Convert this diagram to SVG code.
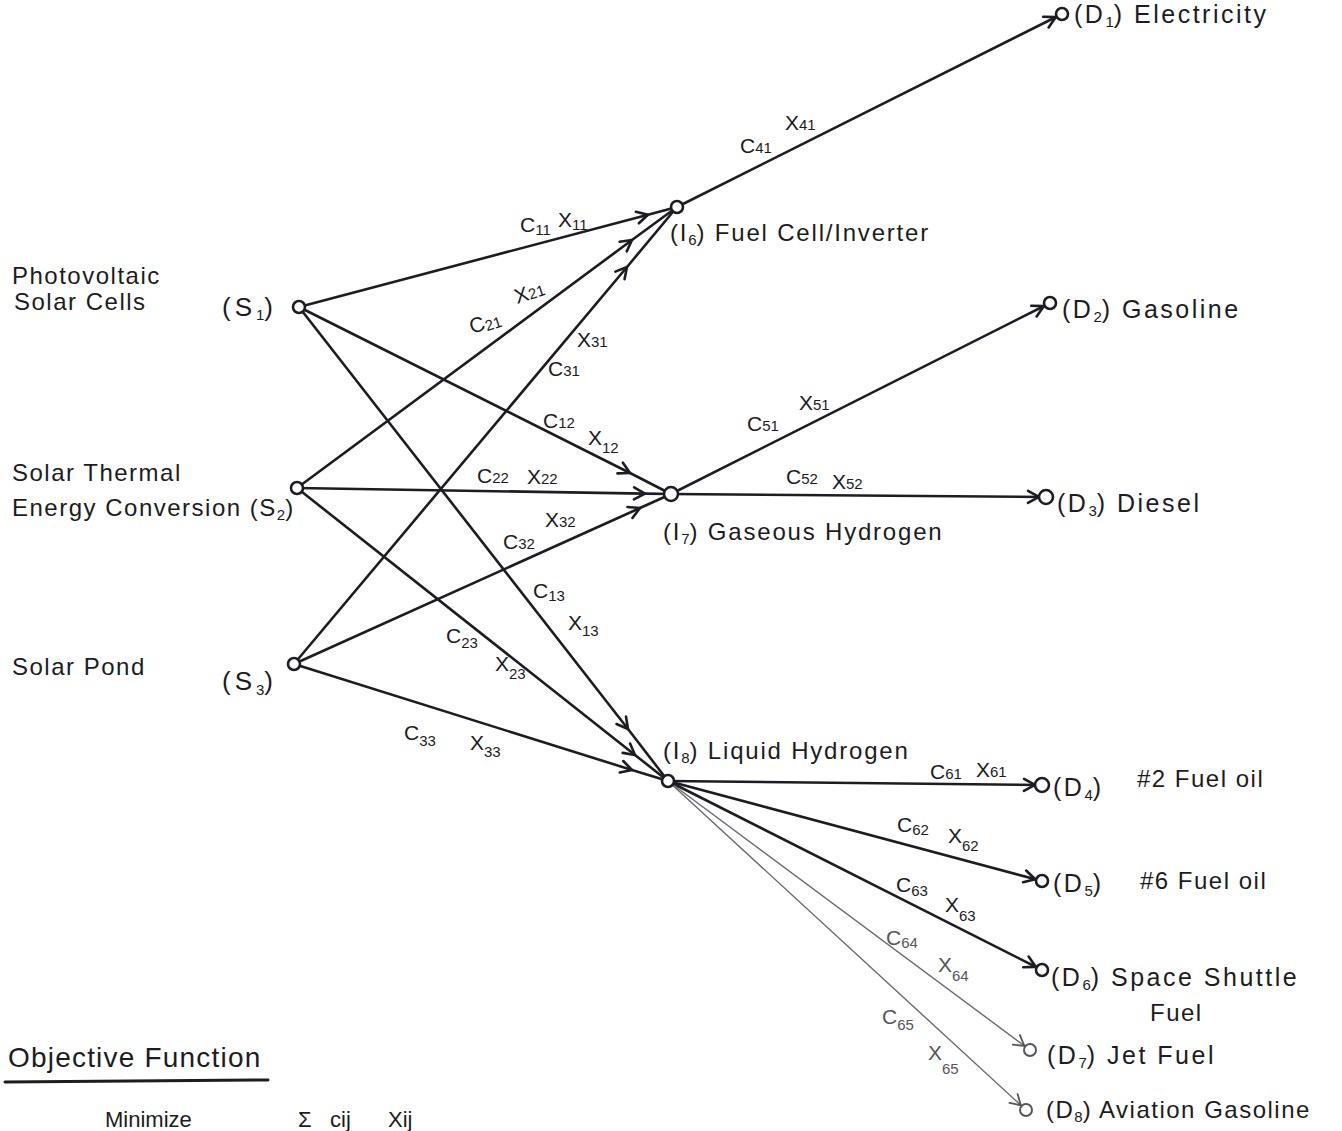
<svg xmlns="http://www.w3.org/2000/svg" width="1342" height="1131" viewBox="0 0 1342 1131">
<style>
text{font-family:"Liberation Sans","DejaVu Sans",sans-serif;fill:#1c1c22}
.lbl{font-size:24px;letter-spacing:1.5px}
.il{font-size:24px;letter-spacing:1.8px}
.sl{font-size:26px;letter-spacing:4px}
.dl{font-size:25px;letter-spacing:2.5px}
.el{font-size:21px}
.sub{font-size:15px;letter-spacing:0}
.gl{fill:#55555c}
.e{fill:none;stroke:#1c1c22;stroke-width:2.6;stroke-linecap:round}
.thin{fill:none;stroke:#6a6a70;stroke-width:1.4;stroke-linecap:round}
.n{fill:#fff;stroke:#1c1c22;stroke-width:2.6}
.ng{fill:#fff;stroke:#55555c;stroke-width:2}
</style>
<defs>
<marker id="mid" markerUnits="userSpaceOnUse" markerWidth="30" markerHeight="30" viewBox="-15 -15 30 30" refX="0" refY="0" orient="auto">
<path d="M -11 -6 L 0 0 L -11 6" fill="none" stroke="#1c1c22" stroke-width="2.6" stroke-linecap="round" stroke-linejoin="round"/>
</marker>
<marker id="end" markerUnits="userSpaceOnUse" markerWidth="40" markerHeight="30" viewBox="-25 -15 40 30" refX="0" refY="0" orient="auto">
<path d="M -18 -6 L -7 0 L -18 6" fill="none" stroke="#1c1c22" stroke-width="2.6" stroke-linecap="round" stroke-linejoin="round"/>
</marker>
<marker id="endg" markerUnits="userSpaceOnUse" markerWidth="40" markerHeight="30" viewBox="-25 -15 40 30" refX="0" refY="0" orient="auto">
<path d="M -17 -6 L -7 0 L -17 6" fill="none" stroke="#55555c" stroke-width="1.8" stroke-linecap="round" stroke-linejoin="round"/>
</marker>
</defs>
<rect width="1342" height="1131" fill="#fff"/>

<g id="connectors">
<path class="e" marker-mid="url(#mid)" d="M 299 307 L 648 214.7 L 677 207"/>
<path class="e" marker-mid="url(#mid)" d="M 299 307 L 630 473 L 671 494"/>
<path class="e" marker-mid="url(#mid)" d="M 299 307 L 628 729 L 668 781"/>
<path class="e" marker-mid="url(#mid)" d="M 297 488 L 632 240 L 677 207"/>
<path class="e" marker-mid="url(#mid)" d="M 297 488 L 645 493.6 L 671 494"/>
<path class="e" marker-mid="url(#mid)" d="M 297 488 L 635 755 L 668 781"/>
<path class="e" marker-mid="url(#mid)" d="M 294 664 L 627 267 L 677 207"/>
<path class="e" marker-mid="url(#mid)" d="M 294 664 L 640 508 L 671 494"/>
<path class="e" marker-mid="url(#mid)" d="M 294 664 L 632 770 L 668 781"/>
<path class="e" marker-end="url(#end)" d="M 677 207 L 1062 14"/>
<path class="e" marker-end="url(#end)" d="M 671 494 L 1050 303"/>
<path class="e" marker-end="url(#end)" d="M 671 494 L 1046 497"/>
<path class="e" marker-end="url(#end)" d="M 668 781 L 1042 785"/>
<path class="e" marker-end="url(#end)" d="M 668 781 L 1042 881"/>
<path class="e" marker-end="url(#end)" d="M 668 781 L 1042 970"/>
<path class="thin" marker-end="url(#endg)" d="M 668 781 L 1030 1050"/>
<path class="thin" marker-end="url(#endg)" d="M 668 781 L 1026 1110"/>

<g id="edge-labels">
<text class="el" x="520" y="232">C<tspan class="sub" dy="3">11</tspan></text>
<text class="el" x="558" y="227">X<tspan class="sub" dy="3">11</tspan></text>
<text class="el" x="472" y="334" transform="rotate(-18 472 334)">C<tspan class="sub" dy="2">21</tspan></text>
<text class="el" x="517" y="304" transform="rotate(-18 517 304)">X<tspan class="sub">21</tspan></text>
<text class="el" x="577" y="347">X<tspan class="sub">31</tspan></text>
<text class="el" x="548" y="376">C<tspan class="sub">31</tspan></text>
<text class="el" x="740" y="153">C<tspan class="sub">41</tspan></text>
<text class="el" x="785" y="130">X<tspan class="sub">41</tspan></text>
<text class="el" x="543" y="428">C<tspan class="sub">12</tspan></text>
<text class="el" x="588" y="445">X<tspan class="sub" dy="8">12</tspan></text>
<text class="el" x="477" y="483">C<tspan class="sub">22</tspan></text>
<text class="el" x="527" y="484">X<tspan class="sub">22</tspan></text>
<text class="el" x="503" y="549">C<tspan class="sub">32</tspan></text>
<text class="el" x="545" y="527">X<tspan class="sub">32</tspan></text>
<text class="el" x="747" y="431">C<tspan class="sub">51</tspan></text>
<text class="el" x="799" y="410">X<tspan class="sub">51</tspan></text>
<text class="el" x="786" y="484">C<tspan class="sub">52</tspan></text>
<text class="el" x="832" y="489">X<tspan class="sub">52</tspan></text>
<text class="el" x="533" y="598">C<tspan class="sub" dy="3">13</tspan></text>
<text class="el" x="568" y="630">X<tspan class="sub" dy="6">13</tspan></text>
<text class="el" x="446" y="643">C<tspan class="sub" dy="5">23</tspan></text>
<text class="el" x="495" y="671">X<tspan class="sub" dy="8">23</tspan></text>
<text class="el" x="404" y="740">C<tspan class="sub" dy="6">33</tspan></text>
<text class="el" x="470" y="750">X<tspan class="sub" dy="7">33</tspan></text>
<text class="el" x="930" y="779">C<tspan class="sub">61</tspan></text>
<text class="el" x="976" y="777">X<tspan class="sub">61</tspan></text>
<text class="el" x="897" y="832">C<tspan class="sub" dy="3">62</tspan></text>
<text class="el" x="948" y="843">X<tspan class="sub" dy="8">62</tspan></text>
<text class="el" x="896" y="892">C<tspan class="sub" dy="4">63</tspan></text>
<text class="el" x="945" y="912">X<tspan class="sub" dy="9">63</tspan></text>
<text class="el gl" x="886" y="945">C<tspan class="sub gl" dy="3">64</tspan></text>
<text class="el gl" x="938" y="972">X<tspan class="sub gl" dy="9">64</tspan></text>
<text class="el gl" x="882" y="1024">C<tspan class="sub gl" dy="6">65</tspan></text>
<text class="el gl" x="928" y="1060">X<tspan class="sub gl" dy="14">65</tspan></text>
</g>
</g>

<g id="S1"><circle class="n" cx="299" cy="307" r="6"/>
<text class="lbl" x="12" y="284">Photovoltaic</text>
<text class="lbl" x="14" y="310">Solar Cells</text>
<text class="sl" x="222" y="316">(S<tspan class="sub" dy="4">1</tspan><tspan dy="-4">)</tspan></text></g>
<g id="S2"><circle class="n" cx="297" cy="488" r="6"/>
<text class="lbl" x="12" y="481">Solar Thermal</text>
<text class="lbl" x="12" y="516">Energy Conversion (S<tspan class="sub" dy="4">2</tspan><tspan dy="-4">)</tspan></text></g>
<g id="S3"><circle class="n" cx="294" cy="664" r="6"/>
<text class="lbl" x="12" y="675">Solar Pond</text>
<text class="sl" x="222" y="690">(S<tspan class="sub" dy="5">3</tspan><tspan dy="-5">)</tspan></text></g>

<g id="I6"><circle class="n" cx="677" cy="207" r="6"/>
<text class="il" x="670" y="241">(I<tspan class="sub" dy="4">6</tspan><tspan dy="-4">) Fuel Cell/Inverter</tspan></text></g>
<g id="I7"><circle class="n" cx="671" cy="494" r="7"/>
<text class="il" x="663" y="540">(I<tspan class="sub" dy="4">7</tspan><tspan dy="-4">) Gaseous Hydrogen</tspan></text></g>
<g id="I8"><circle class="n" cx="668" cy="781" r="6"/>
<text class="il" x="663" y="759">(I<tspan class="sub" dy="4">8</tspan><tspan dy="-4">) Liquid Hydrogen</tspan></text></g>

<g id="D1"><circle class="n" cx="1062" cy="14" r="6"/>
<text class="dl" x="1074" y="23">(D<tspan class="sub" dy="4">1</tspan><tspan dy="-4">)  Electricity</tspan></text></g>
<g id="D2"><circle class="n" cx="1050" cy="303" r="6"/>
<text class="dl" x="1062" y="318">(D<tspan class="sub" dy="4">2</tspan><tspan dy="-4">)  Gasoline</tspan></text></g>
<g id="D3"><circle class="n" cx="1046" cy="497" r="7"/>
<text class="dl" x="1057" y="512">(D<tspan class="sub" dy="4">3</tspan><tspan dy="-4">)  Diesel</tspan></text></g>
<g id="D4"><circle class="n" cx="1042" cy="785" r="7"/>
<text class="dl" x="1053" y="796">(D<tspan class="sub" dy="4">4</tspan><tspan dy="-4">)</tspan></text>
<text class="lbl" x="1137" y="787">#2 Fuel oil</text></g>
<g id="D5"><circle class="n" cx="1042" cy="881" r="6"/>
<text class="dl" x="1053" y="892">(D<tspan class="sub" dy="4">5</tspan><tspan dy="-4">)</tspan></text>
<text class="lbl" x="1140" y="889">#6 Fuel oil</text></g>
<g id="D6"><circle class="n" cx="1042" cy="970" r="6"/>
<text class="dl" x="1051" y="986">(D<tspan class="sub" dy="4">6</tspan><tspan dy="-4">) Space Shuttle</tspan></text>
<text class="lbl" x="1150" y="1021">Fuel</text></g>
<g id="D7"><circle class="ng" cx="1030" cy="1050" r="6"/>
<text class="dl" x="1047" y="1064">(D<tspan class="sub" dy="4">7</tspan><tspan dy="-4">)  Jet Fuel</tspan></text></g>
<g id="D8"><circle class="ng" cx="1026" cy="1110" r="6"/>
<text class="lbl" x="1046" y="1118">(D<tspan class="sub" dy="4">8</tspan><tspan dy="-4">)  Aviation Gasoline</tspan></text></g>

<g id="objective">
<text x="8" y="1067" style="font-size:28px;letter-spacing:1.2px">Objective Function</text>
<line x1="5" y1="1082" x2="268" y2="1080" stroke="#1c1c22" stroke-width="3" stroke-linecap="round"/>
<text y="1127" style="font-size:22px"><tspan x="105">Minimize</tspan><tspan x="298">Σ</tspan><tspan x="330">cij</tspan><tspan x="388">Xij</tspan></text>
</g>
</svg>
